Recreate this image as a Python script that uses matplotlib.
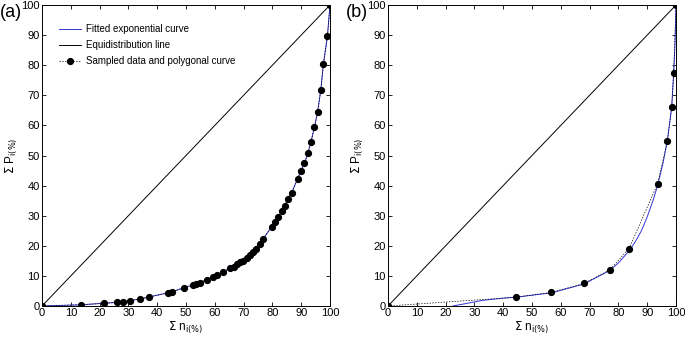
import numpy as np
import matplotlib.pyplot as plt

plt.rcParams['font.family'] = ['Liberation Sans', 'DejaVu Sans']

# panel (a): sampled data (the fitted curve runs through the same points)
a_x = [0, 13.5, 21.4, 26.0, 28.2, 30.4, 33.9, 37.2, 43.9, 45.1, 49.4, 52.6, 53.6,
       54.7, 57.2, 59.5, 60.7, 63.0, 65.3, 66.5, 67.6, 68.8, 69.9, 71.1, 72.2, 73.4,
       74.3, 75.7, 76.7, 79.8, 80.9, 82.1, 83.2, 84.3, 85.3, 86.7, 88.8, 89.9, 91.1,
       92.3, 93.4, 94.6, 95.7, 96.8, 97.7, 99.1, 100]
a_y = [0, 0.4, 0.9, 1.2, 1.4, 1.8, 2.3, 3.0, 4.4, 4.7, 6.1, 7.1, 7.4,
       7.7, 8.8, 9.6, 10.2, 11.4, 12.5, 13.1, 13.8, 14.5, 15.1, 15.9, 16.8, 17.8,
       18.9, 20.6, 22.2, 26.4, 28.0, 29.7, 31.4, 33.3, 35.5, 37.7, 42.3, 45.0, 47.4,
       50.7, 54.6, 59.4, 64.5, 71.7, 80.3, 89.6, 100]

# panel (b): sampled data
b_x = [0, 44.4, 56.6, 68.1, 77.0, 83.7, 93.6, 97.0, 98.5, 99.2, 100]
b_y = [0, 2.9, 4.5, 7.5, 12.0, 19.1, 40.6, 54.7, 66.0, 77.5, 100]

# panel (b): fitted exponential curve
bf_x = [22.5, 27, 33, 40, 45, 57, 68, 77, 80, 84, 86, 88, 90, 92, 93.6, 95.5, 97,
        98.5, 99.2, 99.7, 100]
bf_y = [0, 0.8, 1.9, 2.6, 3.0, 4.4, 7.3, 11.8, 14.3, 18.6, 21.6, 25.0, 29.6, 35.0,
        40.0, 47.5, 55, 66, 77.5, 88, 100]

equi = [0, 100]
ticks = np.arange(0, 101, 10)

fig = plt.figure(figsize=(6.85, 3.37), dpi=100)
ax1 = fig.add_axes([42 / 685, 31 / 337, 288 / 685, 301 / 337])
ax2 = fig.add_axes([388 / 685, 31 / 337, 288 / 685, 301 / 337])

panels = [(ax1, a_x, a_y, a_x, a_y), (ax2, bf_x, bf_y, b_x, b_y)]
for ax, fx, fy, sx, sy in panels:
    ax.plot(fx, fy, color='#3434d8', lw=0.7, label='Fitted exponential curve', zorder=2)
    ax.plot(equi, equi, color='black', lw=0.7, label='Equidistribution line', zorder=1)
    ax.plot(sx, sy, color='black', ls=(0, (2, 2)), lw=0.5, marker='o', ms=4.2,
            label='Sampled data and polygonal curve', zorder=3)
    ax.set_xlim(0, 100)
    ax.set_ylim(0, 100)
    ax.set_xticks(ticks)
    ax.set_yticks(ticks)
    ax.tick_params(direction='in', top=True, right=True, labelsize=8, length=3,
                   width=0.6, pad=1.5)
    for s in ax.spines.values():
        s.set_linewidth(0.7)
    ax.set_xlabel(r'$\Sigma$ n$_{\mathrm{i(\%)}}$', fontsize=8.5, labelpad=1)
    ax.set_ylabel(r'$\Sigma$ P$_{\mathrm{i(\%)}}$', fontsize=8.5, labelpad=1)

fig.text(0 / 685, 1 - 4 / 337, '(a)', fontsize=13, ha='left', va='top')
fig.text(346 / 685, 1 - 4 / 337, '(b)', fontsize=13, ha='left', va='top')

ax1.legend(loc='upper left', frameon=False, fontsize=7, handlelength=2.2,
           handletextpad=0.5, bbox_to_anchor=(0.03, 0.965), labelspacing=0.6)

fig.savefig('out.png', dpi=100)
